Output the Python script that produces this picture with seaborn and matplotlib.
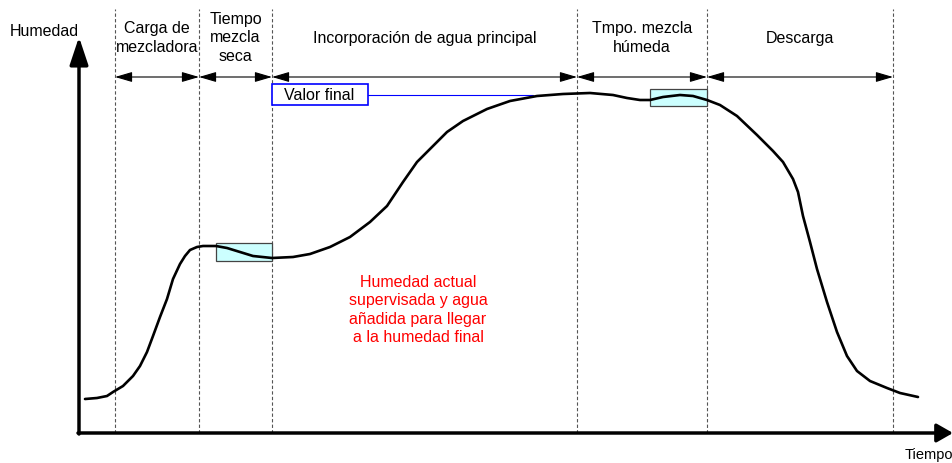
import matplotlib
matplotlib.use("Agg")
import matplotlib.pyplot as plt
import seaborn as sns
import pandas as pd
from matplotlib.patches import Rectangle

curve_time = [6, 18, 28, 34, 44, 54, 61, 68, 74, 81, 88, 94, 101, 106, 111, 118, 124,
              137, 148, 161, 174, 193, 214, 231, 251, 271, 291, 308, 324, 338, 351,
              368, 384, 408, 431, 458, 484, 511, 534, 548, 561, 571, 584, 601, 614,
              628, 641, 658, 678, 694, 704, 714, 719, 724, 731, 738, 748, 758, 768,
              778, 791, 808, 821, 839]
curve_hum = [34, 35, 37, 41, 47, 57, 67, 81, 97, 116, 134, 154, 169, 177, 183, 186, 187,
             187, 185, 181, 177, 175, 176, 179, 186, 196, 211, 227, 251, 271, 284,
             301, 312, 324, 332, 337, 339, 340, 338, 335, 333, 333, 336, 338, 337,
             333, 328, 317, 298, 282, 271, 254, 241, 217, 191, 164, 131, 101, 77,
             62, 52, 45, 40, 36]

# límites de las fases
phase_bounds = [36, 120, 193, 498, 628, 814]
phase_labels = ["Carga de\nmezcladora", "Tiempo\nmezcla\nseca",
                "Incorporación de agua principal", "Tmpo. mezcla\nhúmeda", "Descarga"]

# zonas de estabilidad (t0, t1, h0, h1)
stable_zones = [(137, 193, 172, 190), (571, 628, 327, 344)]

valor_final = 338
red_note = "Humedad actual\nsupervisada y agua\nañadida para llegar\na la humedad final"

sns.set_style("white")
plt.rcParams['font.family'] = ['Liberation Sans', 'DejaVu Sans']
plt.rcParams['text.color'] = 'black'

fig = plt.figure(figsize=(9.53, 4.64), dpi=100)
ax = fig.add_axes([0, 0, 1, 1])

fs = 11.5

# líneas discontinuas de fase
for b in phase_bounds:
    ax.plot([b, b], [0, 424], color="#555555", lw=0.8, ls=(0, (3, 2)), zorder=1)

# flechas dobles entre fases
for a, b in zip(phase_bounds[:-1], phase_bounds[1:]):
    ax.annotate("", xy=(b, 356), xytext=(a, 356),
                arrowprops=dict(arrowstyle="<|-|>,head_length=0.75,head_width=0.22",
                                mutation_scale=14, color="black", lw=0.8,
                                shrinkA=0, shrinkB=0))

# etiquetas de fase
for a, b, lab in zip(phase_bounds[:-1], phase_bounds[1:], phase_labels):
    ax.text((a + b) / 2, 396, lab, ha="center", va="center", fontsize=fs,
            linespacing=1.3)

# zonas cian
for t0, t1, h0, h1 in stable_zones:
    ax.add_patch(Rectangle((t0, h0), t1 - t0, h1 - h0, facecolor="#ccffff",
                           edgecolor="#444444", lw=0.9, zorder=2))

# valor final
ax.plot([289, 454], [valor_final, valor_final], color="#0000ff", lw=0.8, zorder=2)
ax.add_patch(Rectangle((193, 328), 96, 21, facecolor="white", edgecolor="#0000ff",
                       lw=1.2, zorder=3))
ax.text(205, valor_final, "Valor final", ha="left", va="center", fontsize=fs, zorder=4)

# curva
df = pd.DataFrame({"tiempo": curve_time, "humedad": curve_hum})
sns.lineplot(data=df, x="tiempo", y="humedad", sort=False, color="black", lw=1.9,
             solid_joinstyle="round", solid_capstyle="round", ax=ax, zorder=5)
ax.set_xlim(-79, 874)
ax.set_ylim(-30, 434)
ax.axis("off")

# nota roja
ax.text(339, 124, red_note, ha="center", va="center", color="#ff0000", fontsize=fs,
        linespacing=1.3)

# ejes con flechas
ax.annotate("", xy=(0, 396), xytext=(0, -1),
            arrowprops=dict(arrowstyle="-|>,head_length=1.2,head_width=0.4",
                            mutation_scale=14, color="black", lw=2.5,
                            shrinkA=0, shrinkB=0))
ax.annotate("", xy=(874, 0), xytext=(-1, 0),
            arrowprops=dict(arrowstyle="-|>,head_length=0.7,head_width=0.4",
                            mutation_scale=14, color="black", lw=2.5,
                            shrinkA=0, shrinkB=0))

ax.text(-69, 402, "Humedad", ha="left", va="center", fontsize=fs)
ax.text(874, -21, "Tiempo", ha="right", va="center", fontsize=10.5,
        family=['Liberation Sans Narrow', 'Liberation Sans', 'DejaVu Sans'])

fig.savefig("out.png", dpi=100)
